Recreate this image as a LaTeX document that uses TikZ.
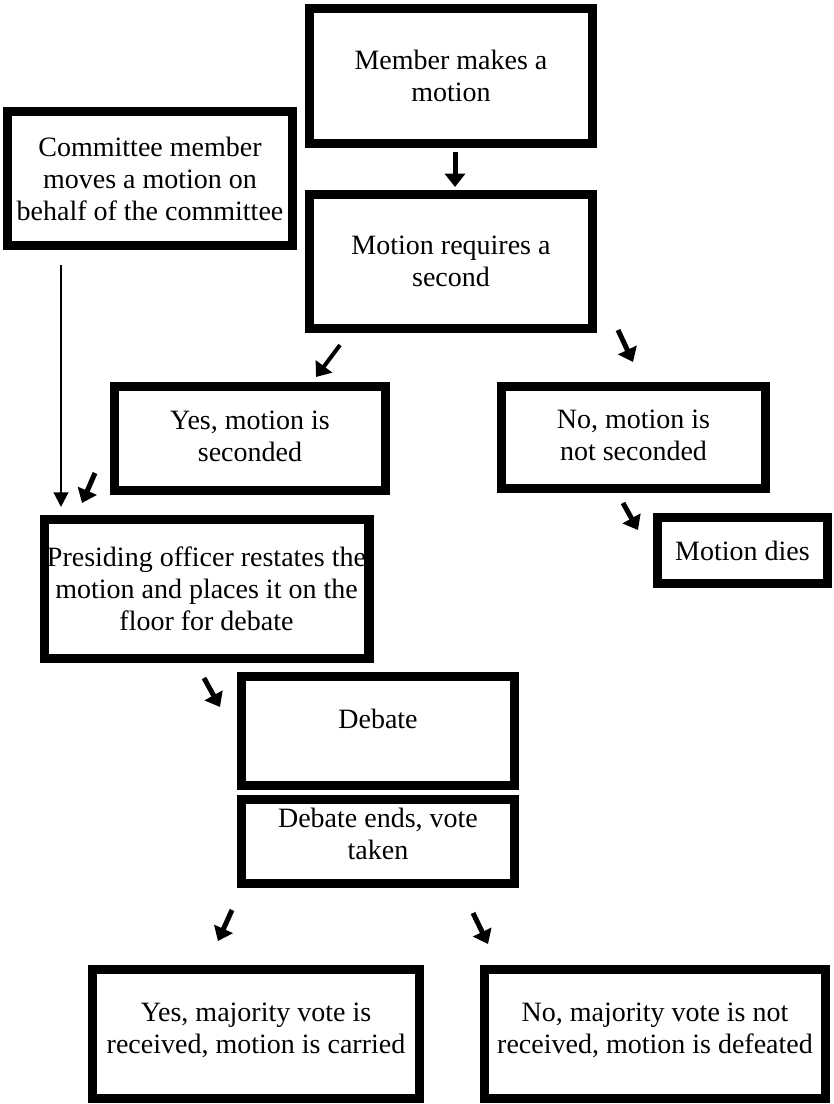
\documentclass[tikz,border=0pt]{standalone}
\usepackage{fontspec}
\setmainfont{Liberation Serif}
\usetikzlibrary{arrows.meta}
\begin{document}
\begin{tikzpicture}[x=0.75pt,y=-0.75pt,
 box/.style={draw=black, line width=7pt, fill=white, inner sep=0pt, align=center, font=\fontsize{21}{24}\selectfont},
 thickarrow/.style={line width=3.75pt, -{Triangle[width=15pt,length=10pt]}},
 thinarrow/.style={line width=1.5pt, -{Triangle[width=11pt,length=11pt]}}]
\useasboundingbox (0,0) rectangle (833,1104);

\node[box, minimum width=212pt, minimum height=101pt] (member) at (451,76) {Member makes a\\motion};
\node[box, minimum width=213.5pt, minimum height=100.25pt] (committee) at (150,178.5) {Committee member\\moves a motion on\\behalf of the committee};
\node[box, minimum width=212pt, minimum height=100.25pt] (second) at (451,261.5) {Motion requires a\\second};
\node[box, minimum width=203pt, minimum height=77.75pt, text depth=4pt] (yes) at (250,438.5) {Yes, motion is\\seconded};
\node[box, minimum width=197.75pt, minimum height=76.25pt, text depth=3pt] (no) at (633.5,437.5) {No, motion is\\not seconded};
\node[box, minimum width=127.25pt, minimum height=49.25pt] (dies) at (742.5,550.5) {Motion dies};
\node[box, minimum width=243.5pt, minimum height=104pt] (presiding) at (206.5,589) {Presiding officer restates the\\motion and places it on the\\floor for debate};
\node[box, minimum width=204.5pt, minimum height=81.5pt, text depth=18pt] (debate) at (378,731) {Debate};
\node[box, minimum width=204.5pt, minimum height=62.75pt, text depth=12pt] (ends) at (378,841.5) {Debate ends, vote\\taken};
\node[box, minimum width=245pt, minimum height=96.5pt, text depth=9pt] (yesmaj) at (256,1034) {Yes, majority vote is\\received, motion is carried};
\node[box, minimum width=255.5pt, minimum height=96.5pt, text depth=9pt] (nomaj) at (655,1034) {No, majority vote is not\\received, motion is defeated};

\coordinate (a1s) at (455,152); \coordinate (a1e) at (455,187);
\coordinate (a2s) at (340,345); \coordinate (a2e) at (316,377);
\coordinate (a3s) at (618,330); \coordinate (a3e) at (633,362);
\coordinate (a4s) at (61,265);  \coordinate (a4e) at (61,507);
\coordinate (a5s) at (95,473);  \coordinate (a5e) at (82,503);
\coordinate (a6s) at (623,503); \coordinate (a6e) at (638,530);
\coordinate (a7s) at (204,678); \coordinate (a7e) at (220,707);
\coordinate (a8s) at (232,910); \coordinate (a8e) at (218,941);
\coordinate (a9s) at (473,913); \coordinate (a9e) at (488,944);

\draw[thickarrow] (a1s) -- (a1e);
\draw[thickarrow, line width=3pt] (a2s) -- (a2e);
\draw[thickarrow] (a3s) -- (a3e);
\draw[thinarrow] (a4s) -- (a4e);
\draw[thickarrow] (a5s) -- (a5e);
\draw[thickarrow] (a6s) -- (a6e);
\draw[thickarrow] (a7s) -- (a7e);
\draw[thickarrow] (a8s) -- (a8e);
\draw[thickarrow] (a9s) -- (a9e);
\end{tikzpicture}
\end{document}
